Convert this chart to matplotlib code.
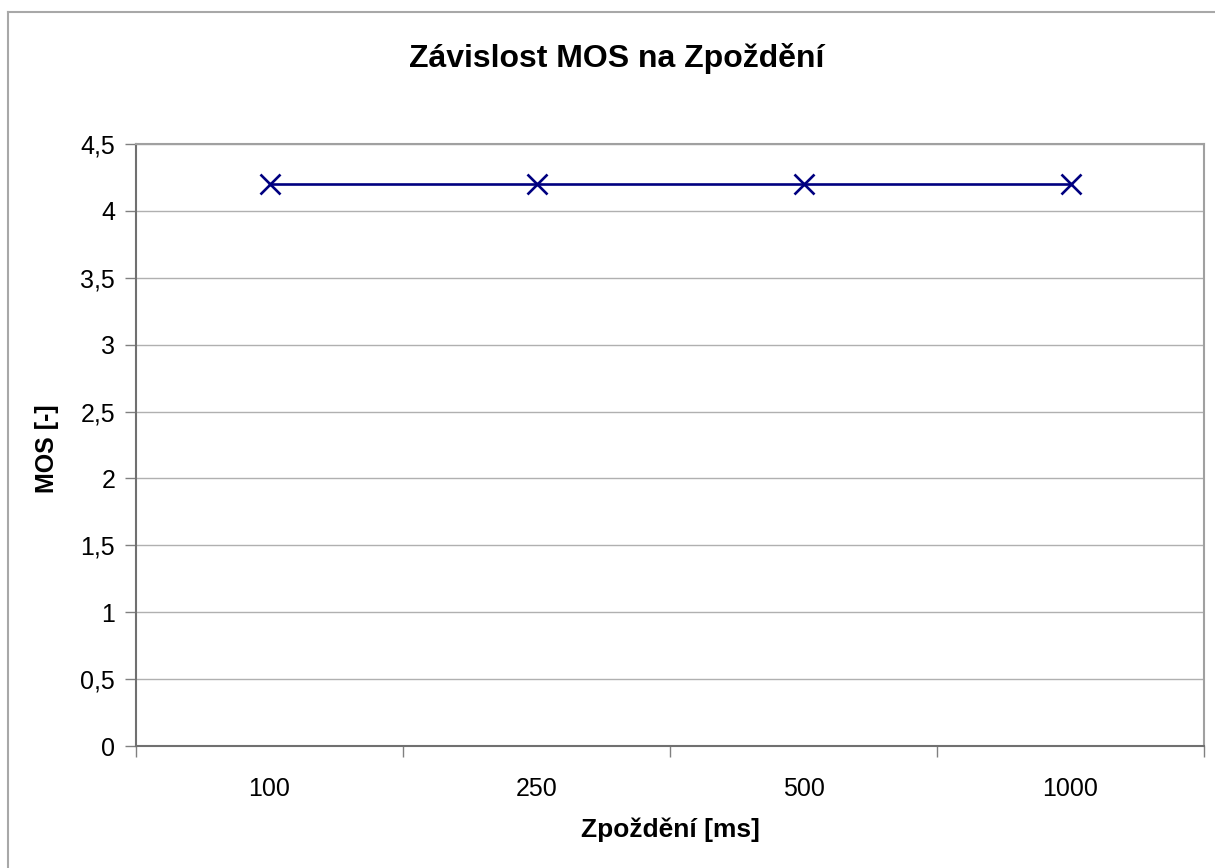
import matplotlib
matplotlib.use("Agg")
import matplotlib.pyplot as plt
from matplotlib.lines import Line2D
from matplotlib.ticker import FuncFormatter, FixedLocator

categories = ["100", "250", "500", "1000"]
mos_values = [4.2, 4.2, 4.2, 4.2]
y_ticks = [0, 0.5, 1, 1.5, 2, 2.5, 3, 3.5, 4, 4.5]

title = "Závislost MOS na Zpoždění"
xlabel = "Zpoždění [ms]"
ylabel = "MOS [-]"

plt.rcParams['font.family'] = ['Liberation Sans', 'DejaVu Sans']

W, H = 1215, 868
fig = plt.figure(figsize=(W / 100, H / 100), dpi=100)
fig.patch.set_facecolor("white")

# outer chart border (top and left visible)
fig.add_artist(Line2D([8 / W, 8 / W], [0, 1 - 12 / H], transform=fig.transFigure,
                      color="#a8a8a8", lw=1.5))
fig.add_artist(Line2D([8 / W, 1], [1 - 12 / H, 1 - 12 / H], transform=fig.transFigure,
                      color="#a8a8a8", lw=1.5))

ax = fig.add_axes([136 / W, (H - 746) / H, (1204 - 136) / W, (746 - 144) / H])
x = list(range(len(categories)))
ax.plot(x, mos_values, color="#000080", lw=1.9, marker="x", markersize=15,
        markeredgewidth=1.9, zorder=3)

ax.set_xlim(-0.5, len(categories) - 0.5)
ax.set_ylim(0, 4.5)
ax.yaxis.set_major_locator(FixedLocator(y_ticks))
ax.yaxis.set_major_formatter(FuncFormatter(lambda v, p: ("%g" % v).replace(".", ",")))
ax.set_xticks(x)
ax.set_xticklabels(categories)
ax.set_xticks([i - 0.5 for i in range(len(categories) + 1)], minor=True)
ax.tick_params(axis="x", which="major", length=0, pad=22, labelsize=18)
ax.tick_params(axis="x", which="minor", length=8, width=1, color="#808080", direction="out")
ax.tick_params(axis="y", which="major", length=8, width=1, color="#808080", pad=7, labelsize=18)

ax.grid(axis="y", color="#b0b0b0", lw=1)
ax.set_axisbelow(True)
for s in ["top", "right"]:
    ax.spines[s].set_color("#a0a0a0")
    ax.spines[s].set_linewidth(1.5)
for s in ["left", "bottom"]:
    ax.spines[s].set_color("#707070")
    ax.spines[s].set_linewidth(1.5)

fig.text(617 / W, 1 - 58 / H, title, ha="center", va="center", fontsize=23, fontweight="bold")
fig.text(670 / W, 1 - 830 / H, xlabel, ha="center", va="center", fontsize=19, fontweight="bold")
fig.text(47 / W, 1 - 449 / H, ylabel, ha="center", va="center", fontsize=18, fontweight="bold",
         rotation=90)

fig.savefig("out.png", dpi=100)
